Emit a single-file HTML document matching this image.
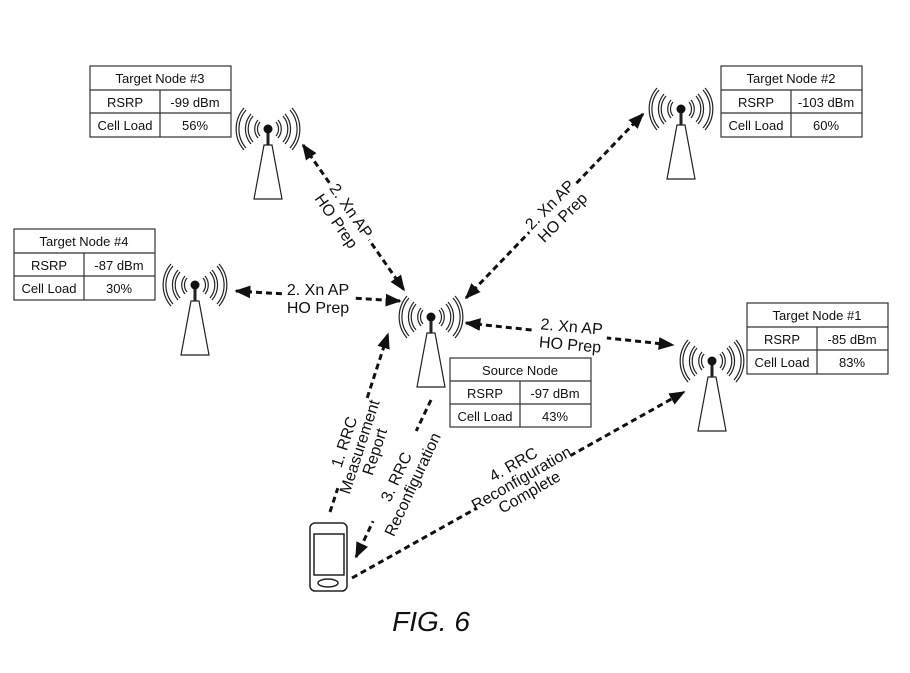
<!DOCTYPE html>
<html><head><meta charset="utf-8"><style>
html,body{margin:0;padding:0;background:#fff}
svg{display:block}
text{font-family:"Liberation Sans",Arial,sans-serif;fill:#111}
</style></head><body>
<svg width="910" height="673" viewBox="0 0 910 673" xmlns="http://www.w3.org/2000/svg">
<defs>
<marker id="a" viewBox="0 0 10 10" refX="9" refY="5" markerWidth="16" markerHeight="16" orient="auto-start-reverse" markerUnits="userSpaceOnUse">
<path d="M0,1 L10,5 L0,9 z" fill="#111"/>
</marker>
<g id="tower" fill="none" stroke="#222">
<path d="M-4,16 L4,16 L14,70 L-14,70 Z" stroke-width="1.2" fill="#fff"/>
<line x1="0" y1="0" x2="0" y2="16" stroke-width="3"/>
<circle cx="0" cy="0" r="4.5" fill="#111" stroke="none"/>
<g stroke-width="1.2">
<path d="M-8,-7 A11,11 0 0 0 -8,7 M8,-7 A11,11 0 0 1 8,7"/>
<path d="M-10,-9 A14,14 0 0 0 -10,9 M10,-9 A14,14 0 0 1 10,9"/>
<path d="M-15,-13 A20,20 0 0 0 -15,13 M15,-13 A20,20 0 0 1 15,13"/>
<path d="M-17,-15 A23,23 0 0 0 -17,15 M17,-15 A23,23 0 0 1 17,15"/>
<path d="M-22,-19 A29,29 0 0 0 -22,19 M22,-19 A29,29 0 0 1 22,19"/>
<path d="M-24,-21 A32,32 0 0 0 -24,21 M24,-21 A32,32 0 0 1 24,21"/>
</g>
</g>
</defs>

<use href="#tower" x="268" y="129"/>
<use href="#tower" x="681" y="109"/>
<use href="#tower" x="195" y="285"/>
<use href="#tower" x="431" y="317"/>
<use href="#tower" x="712" y="361"/>

<g fill="none" stroke="#333" stroke-width="1.2">
<rect x="90" y="66" width="141" height="71"/><line x1="90" y1="90" x2="231" y2="90"/><line x1="90" y1="113" x2="231" y2="113"/><line x1="160" y1="90" x2="160" y2="137"/>
<rect x="721" y="66" width="141" height="71"/><line x1="721" y1="90" x2="862" y2="90"/><line x1="721" y1="113" x2="862" y2="113"/><line x1="791" y1="90" x2="791" y2="137"/>
<rect x="14" y="229" width="141" height="71"/><line x1="14" y1="253" x2="155" y2="253"/><line x1="14" y1="276" x2="155" y2="276"/><line x1="84" y1="253" x2="84" y2="300"/>
<rect x="747" y="303" width="141" height="71"/><line x1="747" y1="327" x2="888" y2="327"/><line x1="747" y1="350" x2="888" y2="350"/><line x1="817" y1="327" x2="817" y2="374"/>
<rect x="450" y="358" width="141" height="69"/><line x1="450" y1="381" x2="591" y2="381"/><line x1="450" y1="404" x2="591" y2="404"/><line x1="520" y1="381" x2="520" y2="427"/>
</g>
<g font-size="13" text-anchor="middle">
<text x="160" y="83">Target Node #3</text><text x="125" y="107">RSRP</text><text x="195" y="107">-99 dBm</text><text x="125" y="130">Cell Load</text><text x="195" y="130">56%</text>
<text x="791" y="83">Target Node #2</text><text x="756" y="107">RSRP</text><text x="826" y="107">-103 dBm</text><text x="756" y="130">Cell Load</text><text x="826" y="130">60%</text>
<text x="84" y="246">Target Node #4</text><text x="49" y="270">RSRP</text><text x="119" y="270">-87 dBm</text><text x="49" y="293">Cell Load</text><text x="119" y="293">30%</text>
<text x="817" y="320">Target Node #1</text><text x="782" y="344">RSRP</text><text x="852" y="344">-85 dBm</text><text x="782" y="367">Cell Load</text><text x="852" y="367">83%</text>
<text x="520" y="375">Source Node</text><text x="485" y="398">RSRP</text><text x="555" y="398">-97 dBm</text><text x="485" y="421">Cell Load</text><text x="555" y="421">43%</text>
</g>

<g stroke="#111" stroke-width="3" stroke-dasharray="6,4" fill="none">
<line x1="303" y1="145" x2="404" y2="290" marker-start="url(#a)" marker-end="url(#a)"/>
<line x1="236" y1="291" x2="400" y2="301" marker-start="url(#a)" marker-end="url(#a)"/>
<line x1="643" y1="114" x2="466" y2="298" marker-start="url(#a)" marker-end="url(#a)"/>
<line x1="466" y1="323" x2="673" y2="345" marker-start="url(#a)" marker-end="url(#a)"/>
<line x1="330" y1="512" x2="388" y2="334" marker-end="url(#a)"/>
<line x1="431" y1="400" x2="356" y2="557" marker-end="url(#a)"/>
<line x1="352" y1="578" x2="684" y2="392" marker-end="url(#a)"/>
</g>

<g font-size="16" text-anchor="middle">
<g transform="translate(345,215) rotate(55)"><rect x="-34" y="-16" width="68" height="36" fill="#fff"/><text y="-2">2. Xn AP</text><text y="16">HO Prep</text></g>
<g transform="translate(318,297)"><rect x="-36" y="-16" width="72" height="36" fill="#fff"/><text y="-2">2. Xn AP</text><text y="16">HO Prep</text></g>
<g transform="translate(555,210) rotate(-45)"><rect x="-34" y="-16" width="68" height="36" fill="#fff"/><text y="-2">2. Xn AP</text><text y="16">HO Prep</text></g>
<g transform="translate(571,334) rotate(5)"><rect x="-36" y="-16" width="72" height="36" fill="#fff"/><text y="-2">2. Xn AP</text><text y="16">HO Prep</text></g>
<g transform="translate(357,446) rotate(-72)"><rect x="-46" y="-22" width="92" height="52" fill="#fff"/><text y="-8">1. RRC</text><text y="8">Measurement</text><text y="24">Report</text></g>
<g transform="translate(403,480) rotate(-65)"><rect x="-50" y="-16" width="100" height="36" fill="#fff"/><text y="-2">3. RRC</text><text y="16">Reconfiguration</text></g>
<g transform="translate(520,476) rotate(-30)"><rect x="-54" y="-22" width="108" height="52" fill="#fff"/><text y="-8">4. RRC</text><text y="8">Reconfiguration</text><text y="24">Complete</text></g>
</g>

<g fill="none" stroke="#222" stroke-width="1.5">
<rect x="310" y="523" width="37" height="68" rx="5"/>
<rect x="314" y="534" width="30" height="41"/>
<ellipse cx="328" cy="583" rx="10" ry="4"/>
</g>

<text x="431" y="631" font-size="28" font-style="italic" text-anchor="middle">FIG. 6</text>
</svg>
</body></html>
